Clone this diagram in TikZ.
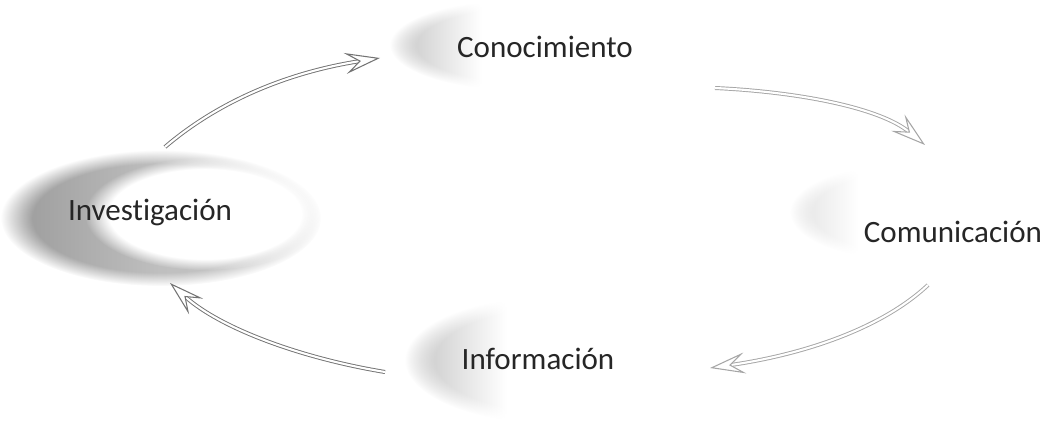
\documentclass[tikz,border=0pt]{standalone}
\usepackage{fontspec}
\setmainfont[RawFeature={-liga}]{Carlito}
\usetikzlibrary{arrows.meta,fadings}
\pgfdeclarehorizontalshading{blobdark}{100bp}{color(0bp)=(black!40); color(25bp)=(black!40); color(50bp)=(black!25); color(75bp)=(black!22); color(100bp)=(black!22)}
\pgfdeclarehorizontalshading{blobsoft}{100bp}{color(0bp)=(black!24); color(25bp)=(black!24); color(42bp)=(white); color(100bp)=(white)}
\pgfdeclarehorizontalshading{blobfaint}{100bp}{color(0bp)=(black!12); color(25bp)=(black!12); color(40bp)=(white); color(100bp)=(white)}
\tikzset{
  lbl/.style={font=\fontsize{26.5}{30}\selectfont, text=black!85, inner sep=0pt},
  soft/.style={path fading=circle with fuzzy edge 20 percent},
  cyc/.style={draw=#1, double=white, double distance=1.8pt, line width=0.8pt,
    -{Stealth[open, length=30pt, width=18pt, inset=12pt, line width=0.9pt, fill=white]}},
  cyc/.default=black!50
}
\begin{document}
\begin{tikzpicture}[x=0.03cm, y=-0.03cm]
\useasboundingbox (0,0) rectangle (1050,433);
% --- blobs ---
% Investigacion (ring-like)
\shade[shading=blobdark, soft] (161,218) ellipse [x radius=160, y radius=68];
\fill[white, soft] (205,214) ellipse [x radius=120, y radius=56];
% Conocimiento
\shade[shading=blobsoft, soft] (525,45) ellipse [x radius=135, y radius=46];
% Comunicacion
\shade[shading=blobfaint, soft] (905,212) ellipse [x radius=115, y radius=48];
% Informacion
\shade[shading=blobsoft, soft] (555,360) ellipse [x radius=150, y radius=64];
% --- labels ---
\node[lbl] (inv) at (150,212) {Investigación};
\node[lbl] (con) at (545,47) {Conocimiento};
\node[lbl] (com) at (953,232) {Comunicación};
\node[lbl] (inf) at (538,359) {Información};
% --- connector ends ---
\coordinate (a1) at (165,147); \coordinate (b1) at (380,58);
\coordinate (a2) at (715,88);  \coordinate (b2) at (925,145);
\coordinate (a3) at (928,285); \coordinate (b3) at (710,368);
\coordinate (a4) at (385,372); \coordinate (b4) at (170,283);
% --- connectors ---
\draw[cyc=black!55] (a1) .. controls (220,100) and (290,72) .. (b1);
\draw[cyc=black!35] (a2) .. controls (800,92) and (880,108) .. (b2);
\draw[cyc=black!35] (a3) .. controls (880,330) and (800,355) .. (b3);
\draw[cyc=black!55] (a4) .. controls (300,358) and (220,328) .. (b4);
\end{tikzpicture}
\end{document}
